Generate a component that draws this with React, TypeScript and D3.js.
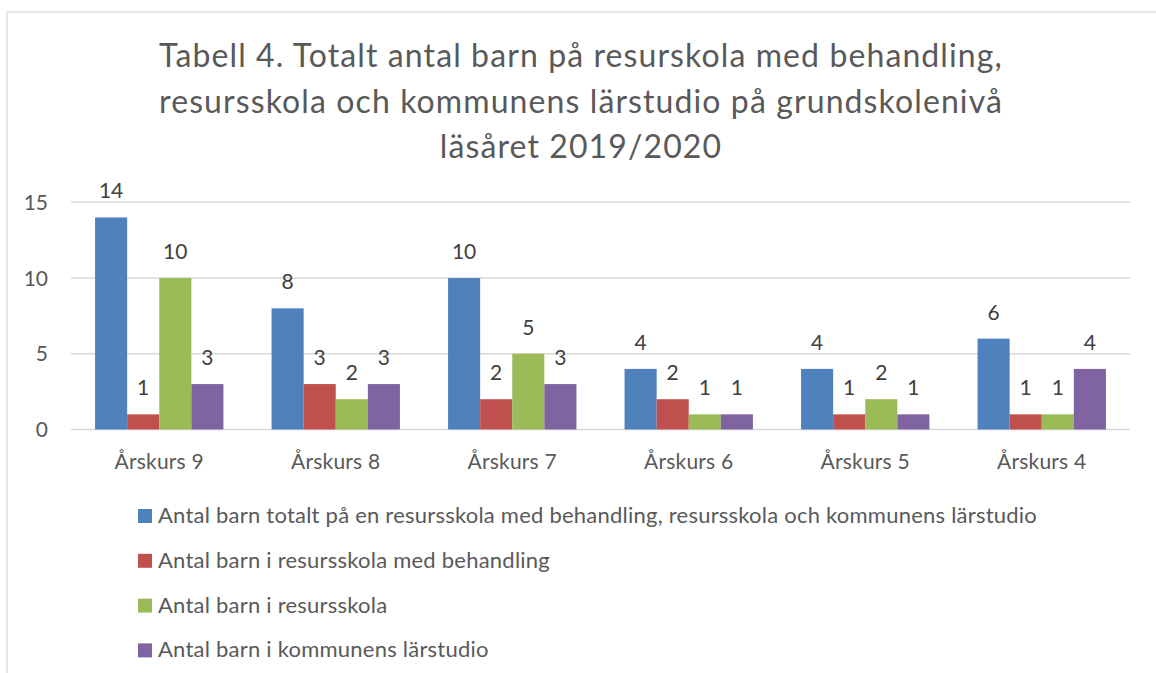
import React from "react";
import * as d3 from "d3";

const categories = ["Årskurs 9", "Årskurs 8", "Årskurs 7", "Årskurs 6", "Årskurs 5", "Årskurs 4"];
const seriesNames = [
  "Antal barn totalt på en resursskola med behandling, resursskola och kommunens lärstudio",
  "Antal barn i resursskola med behandling",
  "Antal barn i resursskola",
  "Antal barn i kommunens lärstudio",
];
const totalt = [14, 8, 10, 4, 4, 6];
const medBehandling = [1, 3, 2, 2, 1, 1];
const resursskola = [10, 2, 5, 1, 2, 1];
const larstudio = [3, 3, 3, 1, 1, 4];
const seriesValues = [totalt, medBehandling, resursskola, larstudio];
const colors = ["#4F81BD", "#C0504D", "#9BBB59", "#8064A2"];
const yTicks = [0, 5, 10, 15];
const titleLines = [
  "Tabell 4. Totalt antal barn på resurskola med behandling,",
  "resursskola och kommunens lärstudio på grundskolenivå",
  "läsåret 2019/2020",
];

const W = 1156;
const H = 673;
const FONT = "Lato, 'Open Sans', sans-serif";
const TEXT = "#595959";

export default function App() {
  const x = d3.scaleBand<string>().domain(categories).range([71, 1130]).padding(0);
  const y = d3.scaleLinear().domain([0, 15]).range([429.5, 202.3]);
  const bw = x.bandwidth();
  const groupW = (bw * 4) / 5.5;
  const inner = d3
    .scaleBand<number>()
    .domain([0, 1, 2, 3])
    .range([0, groupW])
    .padding(0);

  return (
    <svg
      width={W}
      height={H}
      style={{ position: "absolute", left: 0, top: 0, background: "#fff" }}
      fontFamily={FONT}
    >
      <rect x={7} y={12} width={1200} height={700} fill="#fff" stroke="#d9d9d9" strokeWidth={1.2} />
      {titleLines.map((t, i) => (
        <text
          key={i}
          x={581}
          y={67 + i * 45.5}
          textAnchor="middle"
          fontSize={32}
          letterSpacing={1.1}
          fill={TEXT}
        >
          {t}
        </text>
      ))}
      {yTicks.map((t) => (
        <g key={t}>
          <line x1={71} x2={1130} y1={y(t)} y2={y(t)} stroke="#d9d9d9" strokeWidth={1.5} />
          <text x={48} y={y(t) + 7.5} textAnchor="end" fontSize={21} fill={TEXT}>
            {t}
          </text>
        </g>
      ))}
      {categories.map((c, ci) => {
        const gx = (x(c) as number) + (bw - groupW) / 2;
        return (
          <g key={c}>
            {seriesValues.map((vals, si) => {
              const bx = gx + (inner(si) as number);
              const top = y(vals[ci]);
              return (
                <g key={si}>
                  <rect
                    x={bx}
                    y={top}
                    width={inner.bandwidth()}
                    height={y(0) - top}
                    fill={colors[si]}
                  />
                  <text
                    x={bx + inner.bandwidth() / 2}
                    y={top - 19}
                    textAnchor="middle"
                    fontSize={21}
                    fill="#404040"
                  >
                    {vals[ci]}
                  </text>
                </g>
              );
            })}
            <text
              x={(x(c) as number) + bw / 2}
              y={469}
              textAnchor="middle"
              fontSize={21}
              letterSpacing={0.2}
              fill={TEXT}
            >
              {c}
            </text>
          </g>
        );
      })}
      {seriesNames.map((n, i) => {
        const top = 509 + i * 44.8;
        return (
          <g key={i}>
            <rect x={138} y={top} width={14} height={14} fill={colors[i]} />
            <text x={158} y={top + 14} fontSize={22} letterSpacing={0.23} fill={TEXT}>
              {n}
            </text>
          </g>
        );
      })}
    </svg>
  );
}
